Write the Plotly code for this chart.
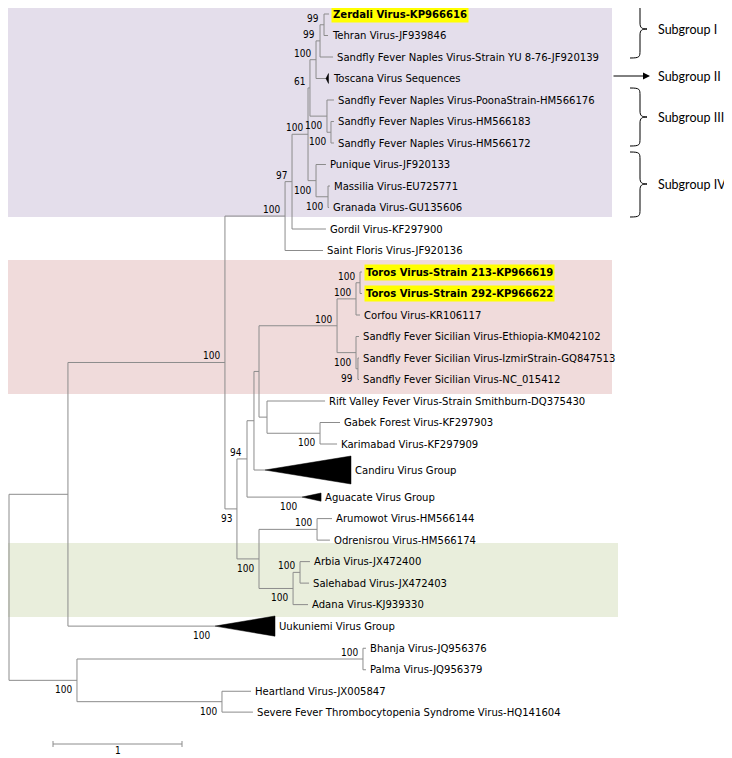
import plotly.graph_objects as go

# ---------------- data ----------------
leaf_names = [
    "Zerdali Virus-KP966616",
    "Tehran Virus-JF939846",
    "Sandfly Fever Naples Virus-Strain YU 8-76-JF920139",
    "Toscana Virus Sequences",
    "Sandfly Fever Naples Virus-PoonaStrain-HM566176",
    "Sandfly Fever Naples Virus-HM566183",
    "Sandfly Fever Naples Virus-HM566172",
    "Punique Virus-JF920133",
    "Massilia Virus-EU725771",
    "Granada Virus-GU135606",
    "Gordil Virus-KF297900",
    "Saint Floris Virus-JF920136",
    "Toros Virus-Strain 213-KP966619",
    "Toros Virus-Strain 292-KP966622",
    "Corfou Virus-KR106117",
    "Sandfly Fever Sicilian Virus-Ethiopia-KM042102",
    "Sandfly Fever Sicilian Virus-IzmirStrain-GQ847513",
    "Sandfly Fever Sicilian Virus-NC_015412",
    "Rift Valley Fever Virus-Strain Smithburn-DQ375430",
    "Gabek Forest Virus-KF297903",
    "Karimabad Virus-KF297909",
    "Candiru Virus Group",
    "Aguacate Virus Group",
    "Arumowot Virus-HM566144",
    "Odrenisrou Virus-HM566174",
    "Arbia Virus-JX472400",
    "Salehabad Virus-JX472403",
    "Adana Virus-KJ939330",
    "Uukuniemi Virus Group",
    "Bhanja Virus-JQ956376",
    "Palma Virus-JQ956379",
    "Heartland Virus-JX005847",
    "Severe Fever Thrombocytopenia Syndrome Virus-HQ141604",
]
# distance from root (substitutions/site) of each tip (apex for collapsed groups)
leaf_depth = [2.481, 2.473, 2.512, 2.457, 2.519, 2.519, 2.519, 2.457, 2.488, 2.481,
              2.457, 2.434, 2.736, 2.736, 2.721, 2.713, 2.713, 2.713, 2.450, 2.566,
              2.543, 1.984, 2.271, 2.504, 2.488, 2.333, 2.326, 2.318, 1.597, 2.767,
              2.767, 1.876, 1.891]
# vertical order of tips (collapsed groups take extra room)
leaf_row = [0, 1, 2, 3, 4, 5, 6, 7, 8, 9, 10, 11, 12, 13, 14, 15, 16, 17, 18, 19, 20,
            21.21, 22.47, 23.47, 24.47, 25.47, 26.47, 27.47, 28.47, 29.5, 30.5,
            31.5, 32.47]
highlighted = [0, 12, 13]

# collapsed (triangle) groups: tip index -> far-edge depth, half height (rows)
collapsed_idx = [3, 21, 22, 28]
collapsed_edge = [2.477, 2.651, 2.419, 2.062]
collapsed_half = [0.23, 0.65, 0.19, 0.47]
collapsed_support = [None, None, 100, 100]

# internal nodes (children listed top to bottom; ints are tips)
node_ids = ["A", "B", "C", "F", "E", "D", "I", "H", "G", "J", "K",
            "R", "Q", "T", "S", "P", "GK", "V", "U", "W", "X",
            "Z", "AB", "AA", "Y", "N", "L", "M", "BP", "HS", "OG", "root"]
node_depth = [2.442, 2.411, 2.380, 2.496, 2.465, 2.333, 2.473, 2.380, 2.318, 2.194, 2.140,
              2.721, 2.690, 2.705, 2.690, 2.543, 2.411, 2.000, 1.938, 1.899, 1.845,
              2.388, 2.256, 2.202, 1.938, 1.767, 1.674, 0.457, 2.744, 1.651, 0.527, 0.0]
node_children = [[0, 1], ["A", 2], ["B", 3], [5, 6], [4, "F"], ["C", "E"], [8, 9],
                 [7, "I"], ["D", "H"], ["G", 10], ["J", 11],
                 [12, 13], ["R", 14], [16, 17], [15, "T"], ["Q", "S"], [19, 20],
                 [18, "GK"], ["P", "V"], ["U", 21], ["W", 22],
                 [23, 24], [25, 26], ["AB", 27], ["Z", "AA"], ["X", "Y"], ["K", "N"],
                 ["L", 28], [29, 30], [31, 32], ["BP", "HS"], ["M", "OG"]]
node_support = [99, 99, 100, 100, 100, 61, 100, 100, 100, 97, 100,
                100, 100, 99, 100, 100, 100, None, None, None, 94,
                100, 100, 100, 100, 93, 100, None, 100, 100, 100, None]

subgroup_labels = ["Subgroup I", "Subgroup II", "Subgroup III", "Subgroup IV"]
scale_bar_length = 1

# ---------------- layout helpers (reference pixel -> axis units) ----------------
PAGE_W, PAGE_H = 732, 758
OFF = 8                      # default page margin of the html body
W, H = PAGE_W - OFF, PAGE_H - OFF
X0, XS = 9.0, 129.0      # root pixel, pixels per unit
Y0, YS = 14.0, 21.5      # first row pixel, pixels per row


def px_x(p):
    return (p - X0) / XS


def px_y(p):
    return (p - Y0) / YS


# ---------------- compute node positions ----------------
pos = {}
for i in range(len(leaf_names)):
    pos[i] = (leaf_depth[i], leaf_row[i])
for nid, d, ch in zip(node_ids, node_depth, node_children):
    ys = [pos[c][1] for c in ch]
    pos[nid] = (d, (ys[0] + ys[-1]) / 2.0)

bx, by = [], []
for nid, ch in zip(node_ids, node_children):
    x, _ = pos[nid]
    ys = [pos[c][1] for c in ch]
    bx += [x, x, None]
    by += [min(ys), max(ys), None]
    for c in ch:
        cx, cy = pos[c]
        bx += [x, cx, None]
        by += [cy, cy, None]

fig = go.Figure()

# shaded bands
bands = [((0, 1), (612, 217), "#E4DEEB"),
         ((0, 260), (612, 394), "#F0DBDB"),
         ((0, 543), (618, 617), "#E9EEDC")]
for (xa, ya), (xb, yb), col in bands:
    fig.add_shape(type="rect", xref="x", yref="y", x0=px_x(xa), x1=px_x(xb),
                  y0=px_y(ya), y1=px_y(yb), fillcolor=col, line_width=0, layer="below")

fig.add_trace(go.Scatter(x=bx, y=by, mode="lines",
                         line=dict(color="#8C8C8C", width=1), hoverinfo="skip"))

# collapsed triangles
for idx, edge, half in zip(collapsed_idx, collapsed_edge, collapsed_half):
    ax_, ay_ = pos[idx]
    fig.add_trace(go.Scatter(x=[ax_, edge, edge, ax_], y=[ay_, ay_ - half, ay_ + half, ay_],
                             mode="lines", fill="toself", fillcolor="black",
                             line=dict(color="black", width=0.5), hoverinfo="skip"))

annotations = []
LEAF_FONT = dict(family="DejaVu Sans Condensed, DejaVu Sans", size=11.2, color="black")
SUP_FONT = dict(family="DejaVu Sans Condensed, DejaVu Sans", size=10, color="black")

# tip labels
for i, name in enumerate(leaf_names):
    x, y = pos[i]
    if i in collapsed_idx:
        x = collapsed_edge[collapsed_idx.index(i)]
    hl = i in highlighted
    annotations.append(dict(
        x=x, y=y, xref="x", yref="y", text=("<b>%s</b>" % name) if hl else name,
        showarrow=False, xanchor="left", yanchor="middle", xshift=2,
        font=LEAF_FONT, bgcolor="#FFFF00" if hl else "rgba(0,0,0,0)", borderpad=1))

# which side of parent's stem is each child (upper -> label above)
upper = {}
for ch in node_children:
    upper[ch[0]] = True
    upper[ch[-1]] = False


def support_label(key, val):
    x, y = pos[key]
    up = upper.get(key, True)
    annotations.append(dict(
        x=x, y=y, xref="x", yref="y", text=str(val), showarrow=False,
        xanchor="right", yanchor="middle", xshift=-3, yshift=6.5 if up else -9.5,
        font=SUP_FONT))


for nid, sup in zip(node_ids, node_support):
    if sup is not None:
        support_label(nid, sup)
for idx, sup in zip(collapsed_idx, collapsed_support):
    if sup is not None:
        support_label(idx, sup)

# scale bar
sb0 = px_x(53)
sby = px_y(744)
tick = 3 / YS
fig.add_trace(go.Scatter(x=[sb0, sb0, None, sb0, sb0 + scale_bar_length, None,
                            sb0 + scale_bar_length, sb0 + scale_bar_length],
                         y=[sby - tick, sby + tick, None, sby, sby, None, sby - tick, sby + tick],
                         mode="lines", line=dict(color="#8C8C8C", width=1), hoverinfo="skip"))
annotations.append(dict(x=sb0 + scale_bar_length / 2, y=px_y(750), xref="x", yref="y",
                        text=str(scale_bar_length), showarrow=False, yanchor="middle",
                        font=SUP_FONT))

# subgroup braces
SG_FONT = dict(family="Lato, Open Sans", size=12.5, color="black")


def brace(ytop, ybot, ytip, xl=630, xm=640, xt=647):
    pts = lambda a, b: "%f,%f" % (px_x(a), px_y(b))
    return ("M " + pts(xl, ytop) +
            " C " + pts(xm, ytop) + " " + pts(xm, ytop + 1) + " " + pts(xm, ytop + 8) +
            " L " + pts(xm, ytip - 6) +
            " C " + pts(xm, ytip - 1) + " " + pts(xm + 2, ytip) + " " + pts(xt, ytip) +
            " C " + pts(xm + 2, ytip) + " " + pts(xm, ytip + 1) + " " + pts(xm, ytip + 6) +
            " L " + pts(xm, ybot - 8) +
            " C " + pts(xm, ybot - 1) + " " + pts(xm, ybot) + " " + pts(xl, ybot))


for yt, yb, ytip in [(2, 58, 29), (88, 146, 117), (152, 217, 184)]:
    fig.add_shape(type="path", xref="x", yref="y", path=brace(yt, yb, ytip),
                  line=dict(color="black", width=1))

for lab, yy in zip(subgroup_labels, [29, 76, 117, 184]):
    annotations.append(dict(x=px_x(656), y=px_y(yy), xref="x", yref="y", text=lab,
                            showarrow=False, xanchor="left", yanchor="middle", font=SG_FONT))

annotations.append(dict(x=px_x(650), y=px_y(76), ax=px_x(612), ay=px_y(76),
                        xref="x", yref="y", axref="x", ayref="y", text="",
                        showarrow=True, arrowhead=2, arrowsize=1.4, arrowwidth=1,
                        arrowcolor="black"))

fig.update_layout(
    width=W, height=H, margin=dict(l=0, r=0, t=0, b=0),
    paper_bgcolor="white", plot_bgcolor="white", showlegend=False,
    xaxis=dict(range=[px_x(OFF), px_x(PAGE_W)], visible=False, fixedrange=True),
    yaxis=dict(range=[px_y(PAGE_H), px_y(OFF)], visible=False, fixedrange=True),
    annotations=annotations,
)

fig.write_html("out.html")
